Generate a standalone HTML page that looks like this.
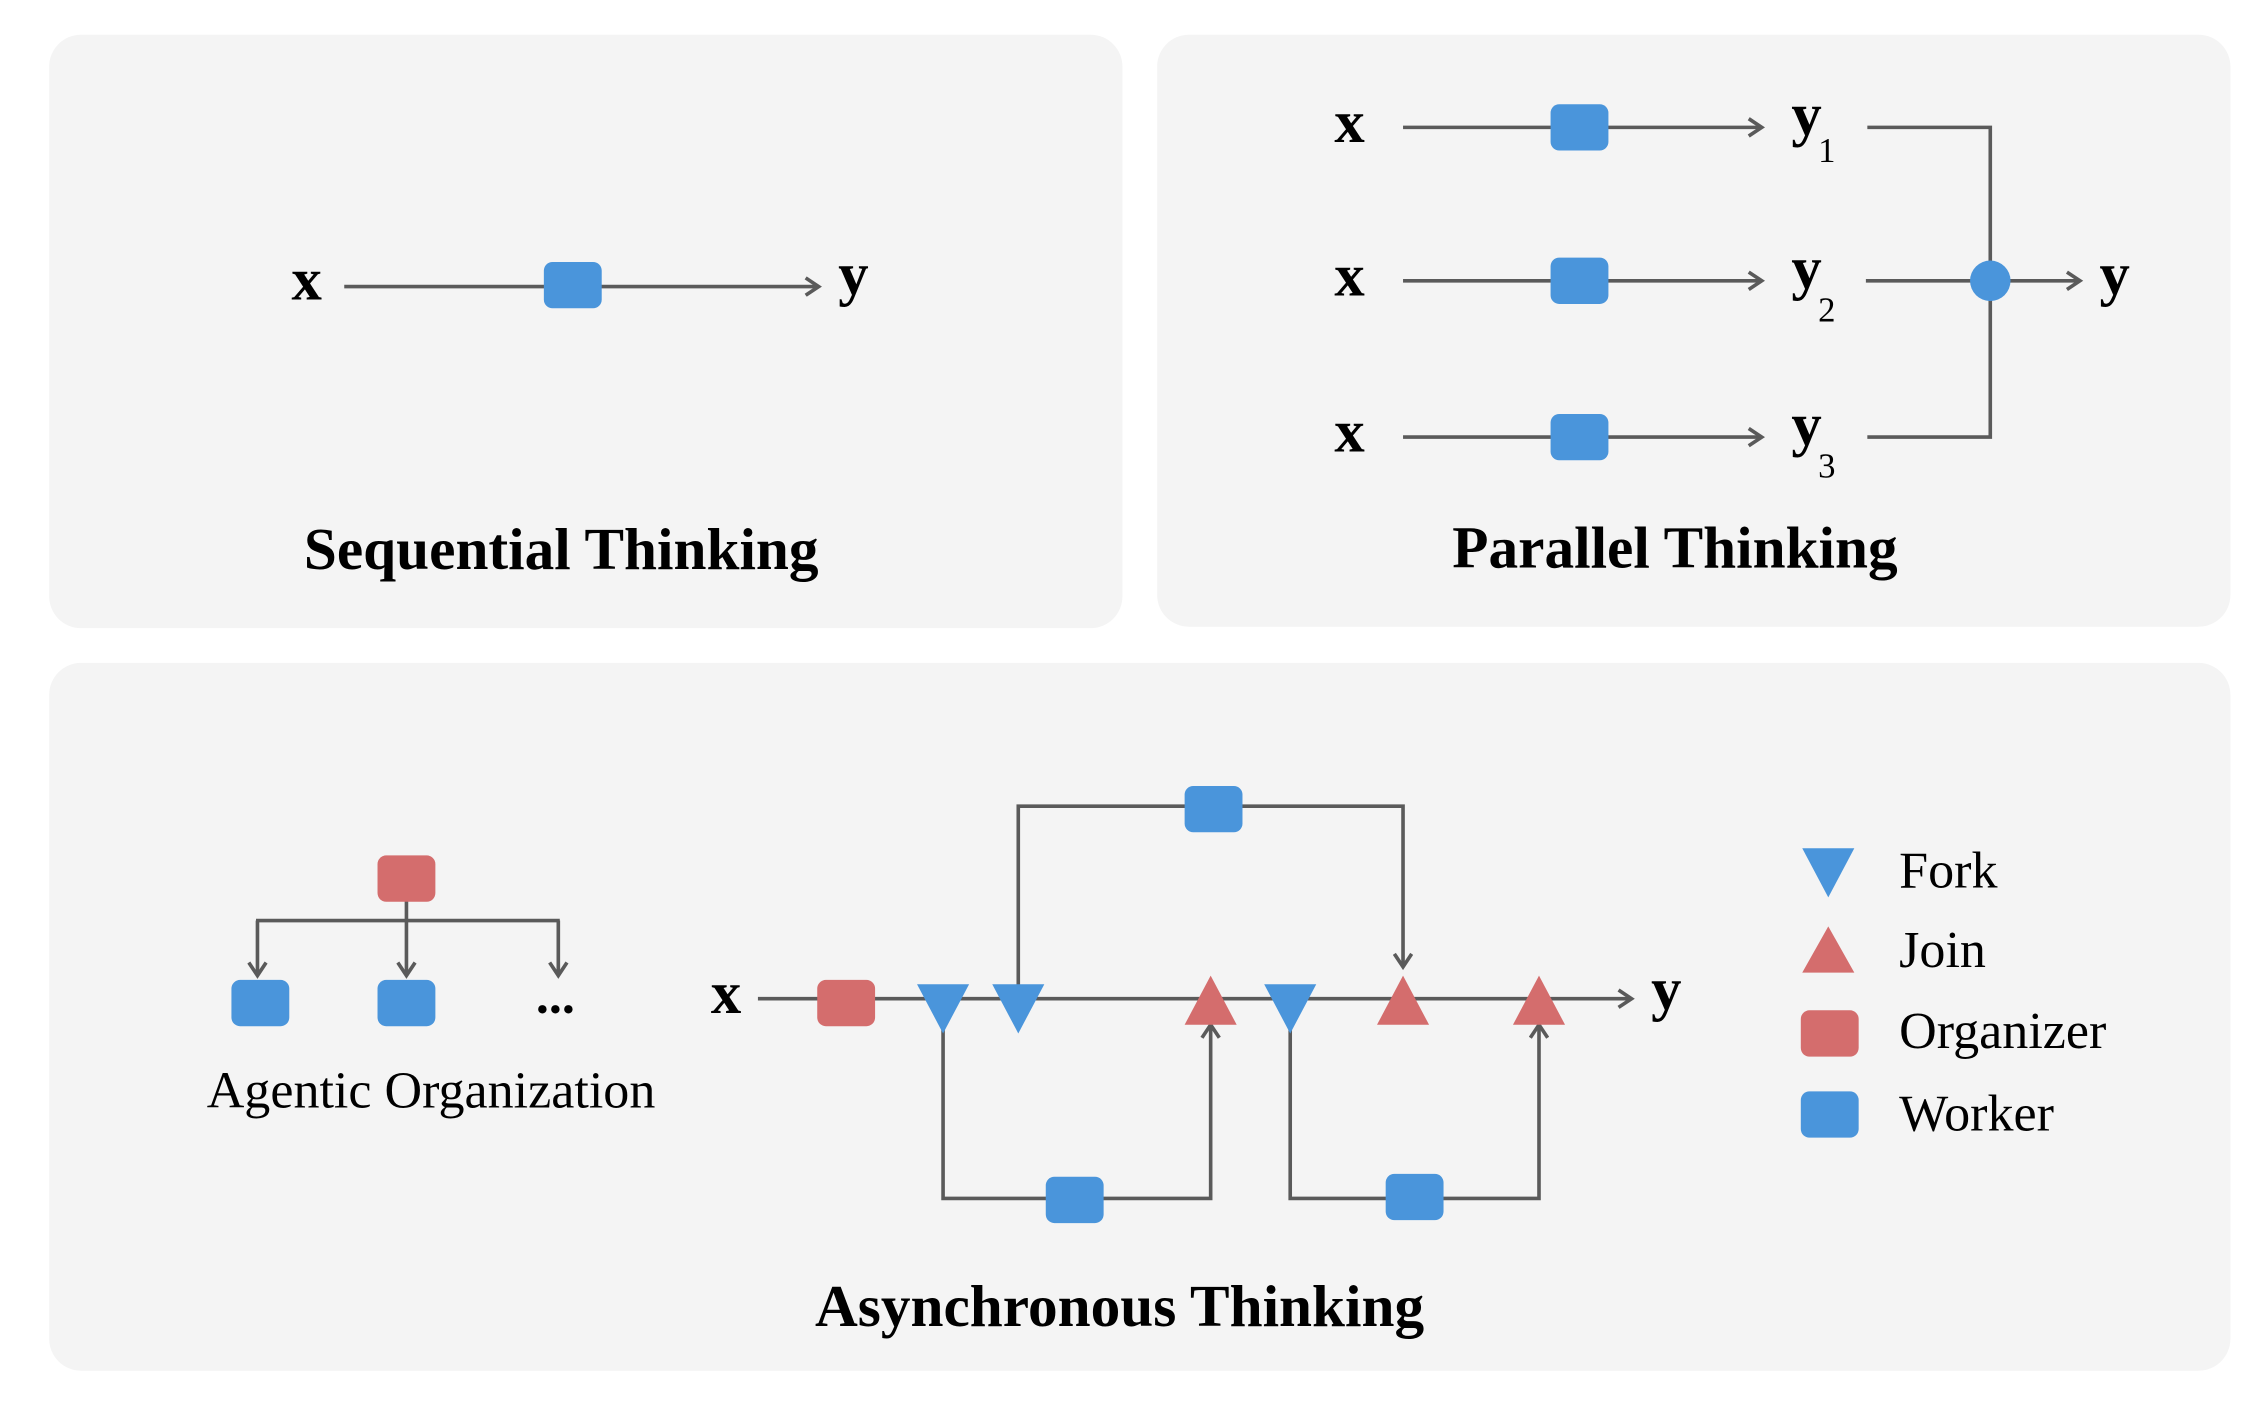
<!DOCTYPE html>
<html><head><style>html,body{margin:0;padding:0;background:#fff}svg{display:block}</style></head>
<body>
<svg width="2268" height="1404" viewBox="0 0 1568 970" preserveAspectRatio="none" xmlns="http://www.w3.org/2000/svg" font-family="Liberation Serif, serif">
<defs>
<marker id="a" markerWidth="14" markerHeight="14" refX="11" refY="7" orient="auto" markerUnits="userSpaceOnUse"><path d="M2,1 L11,7 L2,13" fill="none" stroke="#5a5a5a" stroke-width="2.5"/></marker>
</defs>
<rect width="1568" height="970" fill="#fff"/>
<rect x="34" y="24" width="742" height="410" rx="22" fill="#f4f4f4"/>
<rect x="800" y="24" width="742" height="409" rx="22" fill="#f4f4f4"/>
<rect x="34" y="458" width="1508" height="489" rx="22" fill="#f4f4f4"/>
<g stroke="#5a5a5a" stroke-width="2.5" fill="none">
<line x1="238" y1="198" x2="566" y2="198" marker-end="url(#a)"/>
<line x1="970" y1="88" x2="1218" y2="88" marker-end="url(#a)"/>
<line x1="970" y1="194" x2="1218" y2="194" marker-end="url(#a)"/>
<line x1="970" y1="302" x2="1218" y2="302" marker-end="url(#a)"/>
<polyline points="1291,88 1376,88 1376,302 1291,302"/>
<line x1="1290" y1="194" x2="1438" y2="194" marker-end="url(#a)"/>
<line x1="524" y1="690" x2="1128" y2="690" marker-end="url(#a)"/>
<polyline points="704,690 704,557 970,557 970,668" marker-end="url(#a)"/>
<polyline points="652,700 652,828 837,828 837,708" marker-end="url(#a)"/>
<polyline points="892,700 892,828 1064,828 1064,708" marker-end="url(#a)"/>
<line x1="281" y1="620" x2="281" y2="674" marker-end="url(#a)"/>
<line x1="178" y1="636" x2="178" y2="674" marker-end="url(#a)"/>
<line x1="386" y1="636" x2="386" y2="674" marker-end="url(#a)"/>
<line x1="177" y1="636" x2="387" y2="636"/>
</g>
<g fill="#4a95db">
<rect x="376" y="181" width="40" height="32" rx="6"/>
<rect x="1072" y="72" width="40" height="32" rx="6"/>
<rect x="1072" y="178" width="40" height="32" rx="6"/>
<rect x="1072" y="286" width="40" height="32" rx="6"/>
<circle cx="1376" cy="194" r="14"/>
<rect x="819" y="543" width="40" height="32" rx="6"/>
<rect x="723" y="813" width="40" height="32" rx="6"/>
<rect x="958" y="811" width="40" height="32" rx="6"/>
<rect x="160" y="677" width="40" height="32" rx="6"/>
<rect x="261" y="677" width="40" height="32" rx="6"/>
<rect x="1245" y="754" width="40" height="32" rx="6"/>
<polygon points="634,680 670,680 652,714"/>
<polygon points="686,680 722,680 704,714"/>
<polygon points="874,680 910,680 892,714"/>
<polygon points="1246,586 1282,586 1264,620"/>
</g>
<g fill="#d46d6d">
<rect x="565" y="677" width="40" height="32" rx="6"/>
<rect x="261" y="591" width="40" height="32" rx="6"/>
<rect x="1245" y="698" width="40" height="32" rx="6"/>
<polygon points="819,708 855,708 837,674"/>
<polygon points="952,708 988,708 970,674"/>
<polygon points="1046,708 1082,708 1064,674"/>
<polygon points="1246,672 1282,672 1264,640"/>
</g>
<g font-weight="bold" font-size="42" fill="#000" text-anchor="middle">
<text x="212" y="207">x</text><text x="590" y="203">y</text>
<text x="933" y="98">x</text><text x="933" y="204">x</text><text x="933" y="312">x</text>
<text x="1462" y="203">y</text>
<text x="1249" y="93">y</text><text x="1249" y="199">y</text><text x="1249" y="307">y</text>
<text x="502" y="700">x</text><text x="1152" y="697">y</text>
</g>
<g font-size="24" fill="#000">
<text x="1257" y="112">1</text><text x="1257" y="222">2</text><text x="1257" y="330">3</text>
</g>
<g font-weight="bold" font-size="41" fill="#000" text-anchor="middle">
<text x="388" y="393">Sequential Thinking</text>
<text x="1158" y="392">Parallel Thinking</text>
<text x="774" y="916">Asynchronous Thinking</text>
</g>
<g font-size="36" fill="#000">
<text x="298" y="765" text-anchor="middle">Agentic Organization</text>
<text x="384" y="700" text-anchor="middle" font-weight="bold">...</text>
<text x="1313" y="613">Fork</text>
<text x="1313" y="668">Join</text>
<text x="1313" y="724">Organizer</text>
<text x="1313" y="781">Worker</text>
</g>
</svg>
</body></html>
